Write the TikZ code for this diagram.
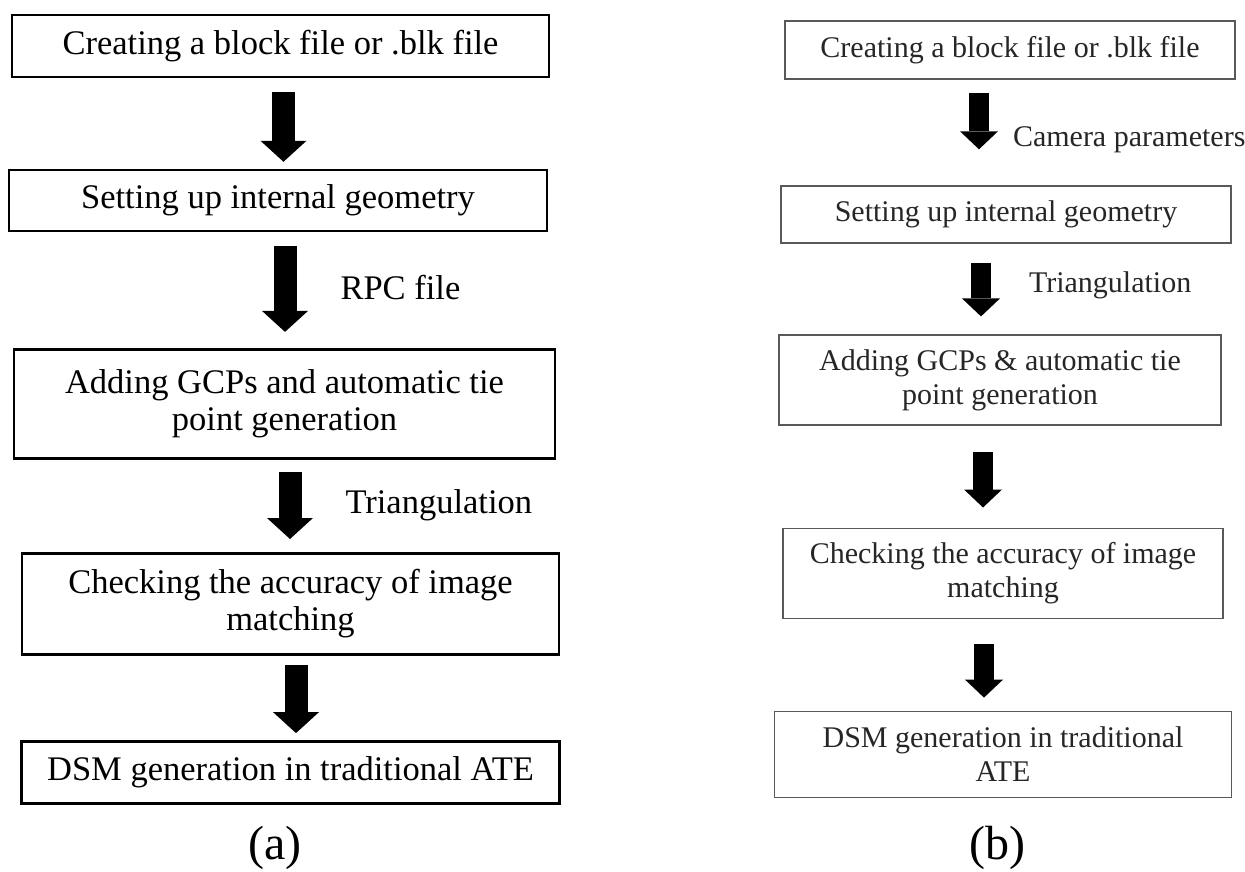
\documentclass[tikz,border=0pt]{standalone}
\usepackage{fontspec}
\setmainfont{Liberation Serif}
\usetikzlibrary{positioning}
\usetikzlibrary{arrows.meta}

\tikzset{
  boxa/.style={draw,line width=2.6pt,align=center,inner sep=0pt,font=\fontsize{34.5}{37.5}\selectfont},
  boxb/.style={draw=black!65,line width=1.6pt,text=black!85,align=center,inner sep=0pt,font=\fontsize{30}{34}\selectfont},
  fata/.style={line width=23pt,-{Triangle[width=46pt,length=21pt,line width=0pt]}},
  fatb/.style={line width=20pt,-{Triangle[width=38pt,length=18pt,line width=0pt]}},
  labela/.style={inner sep=0pt,anchor=west,font=\fontsize{34.5}{37.5}\selectfont},
  labelb/.style={inner sep=0pt,anchor=west,text=black!85,font=\fontsize{30}{34}\selectfont},
}

\begin{document}
\begin{tikzpicture}
  \useasboundingbox (0,0) rectangle (1245pt,-872pt);
  % (a) traditional
  \node[boxa,minimum width=537pt,minimum height=62pt] (a1) at (280.5pt,-46pt) {Creating a block file or .blk file};
  \node[boxa,minimum width=538pt,minimum height=61pt,below=90.5pt of a1,xshift=-2.5pt] (a2) {Setting up internal geometry};
  \node[boxa,minimum width=541pt,minimum height=109pt,below=115.5pt of a2,xshift=6.5pt] (a3) {Adding GCPs and automatic tie\\point generation};
  \node[boxa,minimum width=537pt,minimum height=101pt,below=92.5pt of a3,xshift=6pt] (a4) {Checking the accuracy of image\\matching};
  \node[boxa,minimum width=538pt,minimum height=62pt,below=84.5pt of a4] (a5) {DSM generation in traditional ATE};
  \node[font=\fontsize{48}{52}\selectfont] (capa) at (275pt,-848pt) {(a)};
  \draw[fata,shorten <=14pt,shorten >=7pt] ([xshift=3pt]a1.south) -- ([xshift=3pt]a1.south |- a2.north);
  \draw[fata,shorten <=14pt,shorten >=16pt] ([xshift=7pt]a2.south) -- ([xshift=7pt]a2.south |- a3.north)
     node[labela,pos=0.475,xshift=44pt] (rpc) {RPC file};
  \draw[fata,shorten <=12pt,shorten >=13pt] ([xshift=5.5pt]a3.south) -- ([xshift=5.5pt]a3.south |- a4.north)
     node[labela,pos=0.495,xshift=44pt] (triana) {Triangulation};
  \draw[fata,shorten <=9pt,shorten >=7pt] ([xshift=5.5pt]a4.south) -- ([xshift=5.5pt]a4.south |- a5.north);

  % (b) with camera
  \node[boxb,minimum width=450pt,minimum height=58pt] (b1) at (1010pt,-50pt) {Creating a block file or .blk file};
  \node[boxb,minimum width=450pt,minimum height=57pt,below=105.5pt of b1,xshift=-4pt] (b2) {Setting up internal geometry};
  \node[boxb,minimum width=442pt,minimum height=90pt,below=90.5pt of b2,xshift=-6pt] (b3) {Adding GCPs \& automatic tie\\point generation};
  \node[boxb,minimum width=440pt,minimum height=90pt,below=101.5pt of b3,xshift=3pt] (b4) {Checking the accuracy of image\\matching};
  \node[boxb,minimum width=457pt,minimum height=86pt,below=91.5pt of b4] (b5) {DSM generation in traditional\\ATE};
  \node[font=\fontsize{48}{52}\selectfont] (capb) at (997pt,-848pt) {(b)};
  \draw[fatb,shorten <=13pt,shorten >=36pt] ([xshift=-31pt]b1.south) -- ([xshift=-31pt]b1.south |- b2.north)
     node[labelb,pos=0.57,xshift=24pt] (cam) {Camera parameters};
  \draw[fatb,shorten <=19pt,shorten >=18pt] ([xshift=-25pt]b2.south) -- ([xshift=-25pt]b2.south |- b3.north)
     node[labelb,pos=0.457,xshift=38pt] (trianb) {Triangulation};
  \draw[fatb,shorten <=26pt,shorten >=20pt] ([xshift=-17pt]b3.south) -- ([xshift=-17pt]b3.south |- b4.north);
  \draw[fatb,shorten <=25pt,shorten >=13pt] ([xshift=-19pt]b4.south) -- ([xshift=-19pt]b4.south |- b5.north);
\end{tikzpicture}
\end{document}
